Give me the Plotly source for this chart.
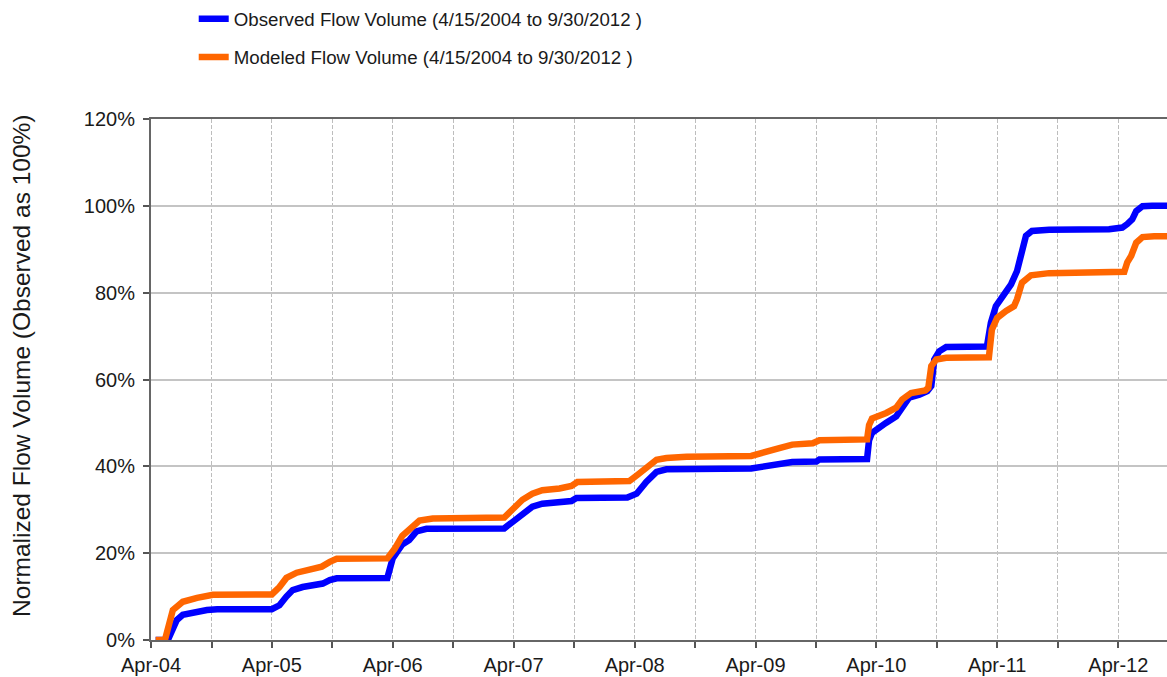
import plotly.graph_objects as go

# ---- Data ----
obs_dates = [
    "2004-04-15", "2004-05-22", "2004-06-18", "2004-07-06", "2004-09-17", "2004-10-18",
    "2005-04-01", "2005-04-24", "2005-05-15", "2005-06-03", "2005-07-03", "2005-09-02",
    "2005-09-23", "2005-10-14", "2006-03-16", "2006-04-01", "2006-04-30", "2006-05-21",
    "2006-06-12", "2006-07-12", "2007-03-04", "2007-03-28", "2007-04-28", "2007-05-28",
    "2007-06-27", "2007-08-18", "2007-09-23", "2007-10-08", "2008-03-10", "2008-04-07",
    "2008-05-06", "2008-06-06", "2008-07-06", "2009-03-19", "2009-04-21", "2009-06-12",
    "2009-07-21", "2009-10-02", "2009-10-11", "2010-03-04", "2010-03-10", "2010-03-19",
    "2010-04-03", "2010-04-30", "2010-05-31", "2010-06-18", "2010-07-09", "2010-08-09",
    "2010-09-02", "2010-09-14", "2010-09-23", "2010-10-08", "2010-10-29", "2011-03-01",
    "2011-03-13", "2011-03-28", "2011-04-16", "2011-05-13", "2011-05-31", "2011-06-12",
    "2011-06-27", "2011-07-15", "2011-09-05", "2012-03-04", "2012-04-13", "2012-04-28",
    "2012-05-13", "2012-05-25", "2012-06-13", "2012-07-12", "2012-09-30",
]
obs_values = [
    0.0, 0.0, 4.6, 5.8, 6.9, 7.1,
    7.1, 8.0, 10.0, 11.5, 12.2, 13.0,
    13.8, 14.2, 14.3, 18.8, 22.0, 23.0,
    25.0, 25.6, 25.7, 27.2, 29.1, 30.7,
    31.4, 31.6, 32.0, 32.7, 32.8, 33.7,
    36.4, 38.7, 39.3, 39.5, 40.0, 40.6,
    41.0, 41.1, 41.6, 41.7, 46.0, 47.7,
    48.6, 50.0, 51.5, 53.8, 55.8, 56.5,
    57.3, 58.5, 64.6, 66.5, 67.5, 67.6,
    73.1, 76.9, 79.2, 81.9, 85.0, 89.2,
    93.1, 94.2, 94.5, 94.6, 95.0, 95.8,
    96.9, 98.8, 99.9, 100.0, 100.0,
]

mod_dates = [
    "2004-04-15", "2004-05-13", "2004-06-06", "2004-07-06", "2004-08-18", "2004-10-05",
    "2005-04-01", "2005-04-24", "2005-05-15", "2005-06-15", "2005-07-24", "2005-08-30",
    "2005-09-23", "2005-10-14", "2006-03-16", "2006-04-07", "2006-04-30", "2006-05-31",
    "2006-06-21", "2006-07-31", "2007-03-04", "2007-03-28", "2007-04-28", "2007-05-28",
    "2007-06-27", "2007-08-18", "2007-09-23", "2007-10-11", "2008-03-16", "2008-04-09",
    "2008-05-06", "2008-06-06", "2008-07-06", "2008-09-05", "2009-03-19", "2009-04-21",
    "2009-06-12", "2009-07-21", "2009-09-21", "2009-10-11", "2010-03-04", "2010-03-10",
    "2010-03-19", "2010-05-01", "2010-05-31", "2010-06-18", "2010-07-15", "2010-08-27",
    "2010-09-05", "2010-09-14", "2010-09-29", "2010-10-29", "2011-03-07", "2011-03-16",
    "2011-04-01", "2011-04-28", "2011-05-22", "2011-05-31", "2011-06-15", "2011-07-12",
    "2011-09-05", "2012-04-19", "2012-04-28", "2012-05-10", "2012-05-25", "2012-06-13",
    "2012-07-18", "2012-09-30",
]
mod_values = [
    0.0, 0.0, 6.9, 8.8, 9.7, 10.4,
    10.5, 12.2, 14.3, 15.5, 16.2, 16.9,
    18.0, 18.7, 18.8, 21.0, 24.0, 26.0,
    27.5, 28.0, 28.2, 30.0, 32.3, 33.7,
    34.5, 34.9, 35.5, 36.4, 36.6, 38.0,
    39.8, 41.5, 41.9, 42.2, 42.4, 43.2,
    44.2, 45.0, 45.3, 46.0, 46.2, 49.5,
    51.0, 52.3, 53.5, 55.4, 56.9, 57.5,
    58.1, 63.1, 64.6, 65.0, 65.1, 71.5,
    74.2, 75.8, 76.9, 78.5, 82.3, 84.0,
    84.5, 84.8, 87.0, 88.5, 91.5, 92.8,
    93.0, 93.0,
]

obs_name = "Observed Flow Volume (4/15/2004 to 9/30/2012 )"
mod_name = "Modeled Flow Volume (4/15/2004 to 9/30/2012 )"
y_title = "Normalized Flow Volume (Observed as 100%)"

FONT = "Liberation Sans, Arial, sans-serif"

fig = go.Figure()
fig.add_trace(go.Scatter(
    x=obs_dates, y=obs_values, mode="lines", name=obs_name,
    line=dict(color="#0000FF", width=6.5), legendgroup="a",
))
fig.add_trace(go.Scatter(
    x=mod_dates, y=mod_values, mode="lines", name=mod_name,
    line=dict(color="#FF6600", width=6.5), legendgroup="b",
))

fig.update_layout(
    width=1167, height=677,
    margin=dict(l=151, r=0, t=119, b=37, autoexpand=False),
    paper_bgcolor="white", plot_bgcolor="white",
    font=dict(family=FONT, color="#1a1a1a", size=20),
    showlegend=True,
    legend=dict(
        xref="container", yref="container",
        x=0.166, y=1.0, xanchor="left", yanchor="top",
        font=dict(family=FONT, size=18.7, color="#1a1a1a"),
        tracegroupgap=11, bgcolor="rgba(0,0,0,0)",
    ),
)

# y-axis title as a rotated annotation left of the tick labels
fig.add_annotation(
    text=y_title, textangle=-90, showarrow=False,
    xref="paper", yref="paper", x=-0.127, y=0.526,
    xanchor="center", yanchor="middle",
    font=dict(size=24.5, family=FONT, color="#1a1a1a"),
)

fig.update_xaxes(
    type="date",
    range=["2004-04-01", "2012-08-26"],
    tick0="2004-04-01", dtick="M12", tickformat="%b-%y", tickangle=0,
    ticks="outside", ticklen=6, tickwidth=1.5, tickcolor="#555555",
    showline=True, linecolor="#666666", linewidth=2, mirror=True,
    showgrid=True, gridcolor="#bdbdbd", gridwidth=1.3, griddash="4px,2px",
    tickfont=dict(size=20, family=FONT, color="#1a1a1a"),
    minor=dict(dtick="M6", tick0="2004-04-01", ticks="outside", ticklen=6,
               tickcolor="#555555", showgrid=True, gridcolor="#bdbdbd",
               gridwidth=1.3, griddash="4px,2px"),
    zeroline=False,
)
fig.update_yaxes(
    range=[0, 120], tick0=0, dtick=20, ticksuffix="%",
    ticks="outside", ticklen=6, tickwidth=1.5, tickcolor="#555555",
    showline=True, linecolor="#666666", linewidth=2,
    showgrid=True, gridcolor="#c4c4c4", gridwidth=1.5,
    tickfont=dict(size=20, family=FONT, color="#1a1a1a"),
    ticklabelstandoff=4,
    zeroline=False,
)

fig.write_html("out.html", config={"displayModeBar": False},
               post_script="document.body.style.margin='0';")
